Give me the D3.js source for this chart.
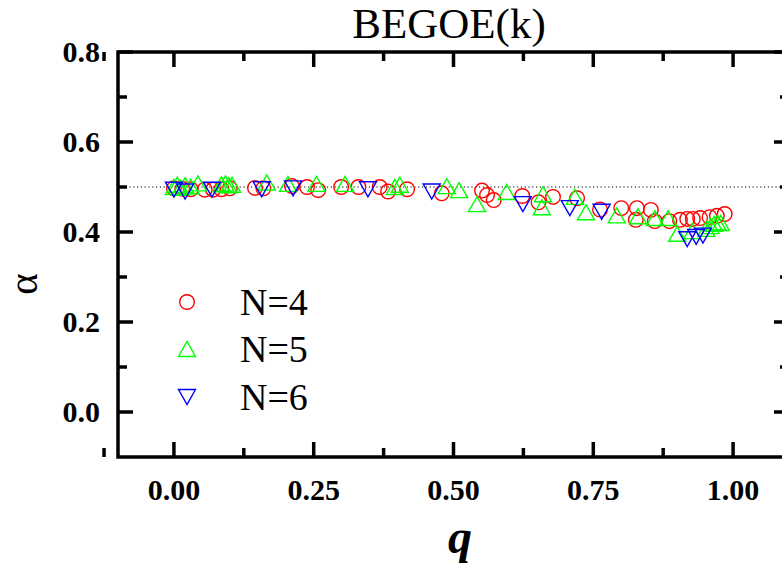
<!DOCTYPE html>
<html><head><meta charset="utf-8">
<script src="https://cdn.jsdelivr.net/npm/d3@7/dist/d3.min.js"></script>
<style>body{margin:0;background:#fff}svg{display:block}</style>
</head><body>
<script>
const title = "BEGOE(k)";
const xTicks = [0, 0.25, 0.5, 0.75, 1.0];
const xTickLabels = ["0.00", "0.25", "0.50", "0.75", "1.00"];
const yTicks = [0.0, 0.2, 0.4, 0.6, 0.8];
const yTickLabels = ["0.0", "0.2", "0.4", "0.6", "0.8"];
const xMinor = [-0.125, 0.125, 0.375, 0.625, 0.875];
const yMinor = [0.1, 0.3, 0.5, 0.7];
const refLine = 0.5;

const seriesNames = ["N=4", "N=5", "N=6"];
const q4 = [0.000,0.015,0.030,0.055,0.070,0.085,0.100,0.145,0.160,0.211,0.238,0.258,0.299,0.330,0.368,0.383,0.417,0.479,0.551,0.560,0.572,0.623,0.652,0.678,0.721,0.762,0.800,0.828,0.826,0.853,0.860,0.886,0.905,0.918,0.928,0.941,0.958,0.971,0.985];
const a4 = [0.497,0.496,0.495,0.494,0.494,0.495,0.497,0.498,0.497,0.502,0.500,0.493,0.500,0.500,0.500,0.490,0.495,0.486,0.492,0.482,0.471,0.480,0.466,0.478,0.475,0.450,0.453,0.453,0.427,0.449,0.424,0.424,0.427,0.429,0.429,0.431,0.433,0.436,0.440];
const q5 = [0.000,0.006,0.012,0.020,0.030,0.043,0.085,0.092,0.098,0.104,0.166,0.204,0.255,0.306,0.395,0.404,0.488,0.510,0.542,0.595,0.660,0.658,0.717,0.737,0.792,0.830,0.860,0.884,0.900,0.927,0.952,0.960,0.966,0.972,0.978];
const a5 = [0.500,0.505,0.498,0.504,0.501,0.508,0.506,0.508,0.504,0.505,0.510,0.507,0.507,0.507,0.500,0.505,0.502,0.493,0.462,0.489,0.484,0.455,0.478,0.444,0.437,0.435,0.431,0.431,0.396,0.402,0.407,0.413,0.418,0.421,0.420];
const q6 = [0.000,0.020,0.068,0.157,0.213,0.347,0.461,0.624,0.708,0.765,0.918,0.934,0.946];
const a6 = [0.494,0.490,0.494,0.495,0.497,0.495,0.490,0.462,0.453,0.445,0.384,0.389,0.392];

const W = 782, H = 567;
const FONT = "'Liberation Serif','Times New Roman',serif";
const svg = d3.select("body").append("svg").attr("width", W).attr("height", H);
const x = d3.scaleLinear().domain([-0.1, 1.1]).range([118, 789]);
const y = d3.scaleLinear().domain([-0.1, 0.8]).range([457, 52]);

const colors = ["#ff0000", "#00ff00", "#0000ff"];
const shapes = ["circle", "up", "down"];

function marker(g, shape, cx, cy, color) {
  if (shape === "circle") {
    g.append("circle").attr("cx", cx).attr("cy", cy).attr("r", 7.3)
      .attr("fill", "none").attr("stroke", color).attr("stroke-width", 1.4);
  } else {
    const w = 8.5, h = 7.5, s = shape === "up" ? 1 : -1;
    const p = `M${cx - w},${cy + s*h}L${cx + w},${cy + s*h}L${cx},${cy - s*h}Z`;
    g.append("path").attr("d", p).attr("fill", "none").attr("stroke", color)
      .attr("stroke-width", 1.4);
  }
}

// reference dotted line
svg.append("line").attr("x1", x(-0.1)).attr("x2", x(1.1)).attr("y1", y(refLine)).attr("y2", y(refLine))
  .attr("stroke", "#000").attr("stroke-width", 1.2).attr("stroke-dasharray", "1.2,2.6");

// data
const data = [[q4, a4], [q5, a5], [q6, a6]];
data.forEach((d, i) => {
  const g = svg.append("g");
  d[0].forEach((qq, j) => marker(g, shapes[i], x(qq), y(d[1][j]), colors[i]));
});

// frame & ticks (inward)
const sw = 3.5, MAJ = 15, MIN = 9;
const [x0, x1] = x.range(), [yb, yt] = y.range();
const ax = svg.append("g").attr("stroke", "#000").attr("stroke-width", sw);
ax.append("rect").attr("x", x0).attr("y", yt).attr("width", x1 - x0).attr("height", yb - yt).attr("fill", "none");
xTicks.forEach(v => {
  ax.append("line").attr("x1", x(v)).attr("x2", x(v)).attr("y1", yb).attr("y2", yb - MAJ);
  ax.append("line").attr("x1", x(v)).attr("x2", x(v)).attr("y1", yt).attr("y2", yt + MAJ);
});
xMinor.forEach(v => {
  ax.append("line").attr("x1", x(v)).attr("x2", x(v)).attr("y1", yb).attr("y2", yb - MIN);
  ax.append("line").attr("x1", x(v)).attr("x2", x(v)).attr("y1", yt).attr("y2", yt + MIN);
});
yTicks.forEach(v => {
  ax.append("line").attr("x1", x0).attr("x2", x0 + MAJ).attr("y1", y(v)).attr("y2", y(v));
  ax.append("line").attr("x1", x1).attr("x2", x1 - MAJ).attr("y1", y(v)).attr("y2", y(v));
});
yMinor.forEach(v => {
  ax.append("line").attr("x1", x0).attr("x2", x0 + MIN).attr("y1", y(v)).attr("y2", y(v));
  ax.append("line").attr("x1", x1).attr("x2", x1 - MIN).attr("y1", y(v)).attr("y2", y(v));
});

// tick labels
svg.append("g").selectAll("text").data(xTicks).join("text")
  .attr("x", d => x(d)).attr("y", 500).attr("text-anchor", "middle")
  .attr("font-family", FONT).attr("font-weight", "bold").attr("font-size", 30)
  .text((d, i) => xTickLabels[i]);
svg.append("g").selectAll("text").data(yTicks).join("text")
  .attr("x", 100).attr("y", d => y(d)).attr("dy", "0.33em").attr("text-anchor", "end")
  .attr("font-family", FONT).attr("font-weight", "bold").attr("font-size", 30)
  .text((d, i) => yTickLabels[i]);

// title
svg.append("text").attr("x", 449).attr("y", 38).attr("text-anchor", "middle")
  .attr("font-family", FONT).attr("font-size", 43).text(title);
// x label
svg.append("text").attr("x", 460).attr("y", 553).attr("text-anchor", "middle")
  .attr("font-family", FONT).attr("font-size", 48)
  .attr("font-weight", "bold").attr("font-style", "italic").text("q");
// y label
svg.append("text").attr("transform", "translate(37,284) rotate(-90)").attr("text-anchor", "middle")
  .attr("font-family", FONT).attr("font-size", 41).text("α");

// legend
const legY = [302, 349, 397];
seriesNames.forEach((n, i) => {
  const g = svg.append("g");
  marker(g, shapes[i], 187, legY[i], colors[i]);
  svg.append("text").attr("x", 240).attr("y", legY[i] + 13)
    .attr("font-family", FONT).attr("font-size", 38).text(n);
});
</script>
</body></html>
